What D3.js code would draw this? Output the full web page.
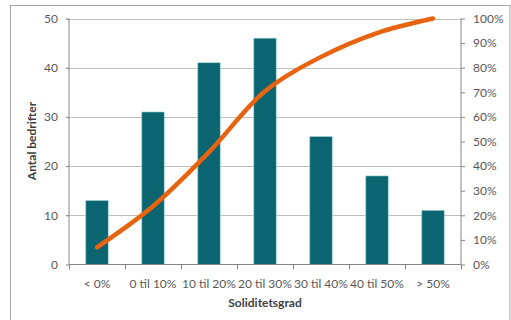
<!DOCTYPE html>
<html><head><meta charset="utf-8">
<script src="https://cdn.jsdelivr.net/npm/d3@7"></script>
<style>body{margin:0;background:#fff}svg{display:block}text{font-family:Lato,"Open Sans",sans-serif}</style>
</head><body><svg id="c" width="511" height="320"></svg>
<script>
const categories = ["< 0%", "0 til 10%", "10 til 20%", "20 til 30%", "30 til 40%", "40 til 50%", "> 50%"];
const counts = [13, 31, 41, 46, 26, 18, 11];
const cumulativePct = [7.0, 23.7, 45.7, 70.4, 84.4, 94.1, 100];
const leftTicks = [0, 10, 20, 30, 40, 50];
const rightTicks = [0, 10, 20, 30, 40, 50, 60, 70, 80, 90, 100];

const FS = 12;
const svg = d3.select("#c");
const L = 69, R = 461, T = 18.5, B = 264.5;
svg.append("rect").attr("x", 10.5).attr("y", 5.5).attr("width", 499.5).attr("height", 320).attr("fill", "none").attr("stroke", "#a6a6a6");

const x = d3.scaleBand().domain(categories).range([L, R]).paddingInner(0.6).paddingOuter(0.3);
const y = d3.scaleLinear().domain([0, 50]).range([B, T]);
const y2 = d3.scaleLinear().domain([0, 100]).range([B, T]);

// gridlines
svg.append("g").selectAll("line").data(leftTicks.filter(d => d > 0)).join("line")
  .attr("x1", L - 3).attr("x2", R).attr("y1", d => Math.round(y(d)) + 0.5).attr("y2", d => Math.round(y(d)) + 0.5)
  .attr("stroke", "#bfbfbf");

// bars
svg.append("g").selectAll("rect").data(counts).join("rect")
  .attr("x", (d, i) => x(categories[i])).attr("width", x.bandwidth())
  .attr("y", d => y(d)).attr("height", d => B - y(d))
  .attr("fill", "#0a6570").attr("stroke", "#9ccfd3").attr("stroke-width", 0.6);

// axes
const gl = svg.append("g").attr("transform", `translate(${L},0)`)
  .call(d3.axisLeft(y).tickValues(leftTicks).tickSize(3).tickPadding(8));
const gr = svg.append("g").attr("transform", `translate(${R},0)`)
  .call(d3.axisRight(y2).tickValues(rightTicks).tickFormat(d => d + "%").tickSize(4).tickPadding(8));
const xb = d3.scaleLinear().domain([0, categories.length]).range([L, R]);
const gx = svg.append("g").attr("transform", `translate(0,${B})`);
gx.append("line").attr("x1", L).attr("x2", R).attr("stroke", "#868686");
gx.selectAll("line.t").data(d3.range(categories.length + 1)).join("line").attr("class", "t")
  .attr("x1", d => Math.round(xb(d)) + 0.5).attr("x2", d => Math.round(xb(d)) + 0.5).attr("y1", 0).attr("y2", 5).attr("stroke", "#868686");
gx.selectAll("text").data(categories).join("text")
  .attr("x", d => x(d) + x.bandwidth() / 2).attr("y", 23).attr("text-anchor", "middle")
  .attr("font-size", FS).attr("fill", "#595959").text(d => d);

[gl, gr].forEach(g => {
  g.select(".domain").attr("stroke", "#868686");
  g.selectAll(".tick line").attr("stroke", "#868686");
  g.selectAll(".tick text").attr("font-size", FS).attr("fill", "#595959").attr("font-family", "Lato, sans-serif");
});
gl.select(".domain").attr("d", `M0,${T}V${B}`);
gr.select(".domain").attr("d", `M0,${T}V${B}`);

// line
const line = d3.line().x((d, i) => x(categories[i]) + x.bandwidth() / 2).y(d => y2(d)).curve(d3.curveCatmullRom.alpha(0.5));
svg.append("path").datum(cumulativePct).attr("d", line).attr("fill", "none")
  .attr("stroke", "#e8630f").attr("stroke-width", 4.5).attr("stroke-linecap", "round");

// titles
svg.append("text").attr("x", (L + R) / 2).attr("y", 307).attr("text-anchor", "middle")
  .attr("font-size", FS).attr("font-weight", "bold").attr("fill", "#404040").text("Soliditetsgrad");
svg.append("text").attr("transform", "translate(36,141) rotate(-90)").attr("text-anchor", "middle")
  .attr("font-size", FS).attr("font-weight", "bold").attr("fill", "#404040").text("Antal bedrifter");
</script></body></html>
